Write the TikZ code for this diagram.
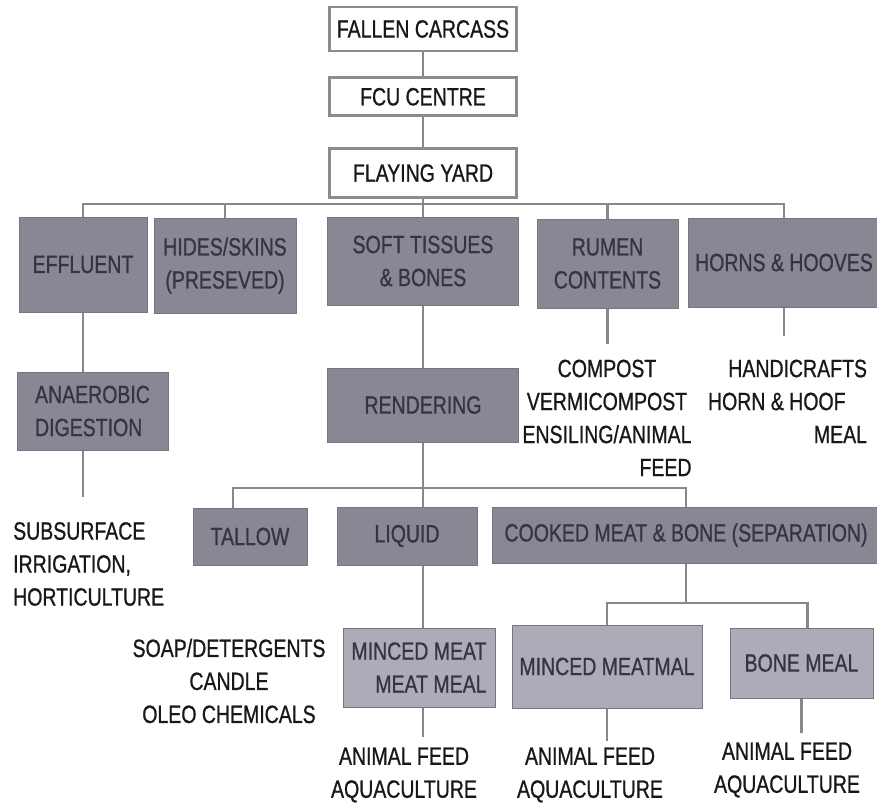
\documentclass[tikz,border=0pt]{standalone}
\usepackage{fontspec}
\setmainfont{Liberation Sans}[FakeStretch=0.78, FakeBold=0.8]
\usepackage{xcolor}
\definecolor{boxgray}{RGB}{136,136,148}
\definecolor{boxlight}{RGB}{172,172,184}
\definecolor{boxedge}{RGB}{118,118,128}
\definecolor{topedge}{RGB}{140,140,140}
\definecolor{boxink}{RGB}{52,52,68}
\definecolor{plainink}{RGB}{24,24,24}
\definecolor{linkgray}{RGB}{135,135,142}
\usepackage{tikz}
\usetikzlibrary{positioning}

\begin{document}
\begin{tikzpicture}[
  x=1pt, y=-1pt,
  font=\fontsize{25}{33}\selectfont,
  topbox/.style={draw=topedge, line width=2.8pt, fill=white, text=plainink,
                 minimum width=187pt, inner sep=2pt},
  box/.style={draw=boxedge, line width=1pt, fill=boxgray, text=boxink,
              align=center, inner sep=2pt},
  lightbox/.style={box, fill=boxlight},
  note/.style={text=plainink, inner sep=3pt},
  link/.style={draw=linkgray, line width=2.2pt}
]
\useasboundingbox (0,0) rectangle (877,804);

\node[topbox, minimum height=44pt] (fallen) at (423,29) {FALLEN CARCASS};
\node[topbox, minimum height=38pt, below=24pt of fallen] (fcu) {FCU CENTRE};
\node[topbox, minimum height=49pt, below=30pt of fcu] (yard) {FLAYING YARD};

\node[box, minimum width=128pt, minimum height=95pt] (effl)  at (83,264.5)  {EFFLUENT};
\node[box, minimum width=142pt, minimum height=95pt] (hides) at (225,265.5) {HIDES/SKINS\\(PRESEVED)};
\node[box, minimum width=191pt, minimum height=88pt] (soft)  at (423,261)   {SOFT TISSUES\\\& BONES};
\node[box, minimum width=141pt, minimum height=89pt] (rumen) at (607.5,263.5) {RUMEN\\CONTENTS};
\node[box, minimum width=192pt, minimum height=89pt] (horns) at (784,262.5) {HORNS \& HOOVES};

\node[box, align=left, minimum width=151pt, minimum height=78pt] (anaer) at (92.5,411) {ANAEROBIC\\DIGESTION};
\node[box, minimum width=191pt, minimum height=74pt] (rend) at (423,405) {RENDERING};

\node[note] (compost) at (607,420)
  {\begin{tabular}{@{}c@{}}COMPOST\\VERMICOMPOST\\ENSILING/ANIMAL\\\multicolumn{1}{@{}r@{}}{FEED}\end{tabular}};
\node[note] (crafts) at (787.5,403.5)
  {\begin{tabular}{@{}p{159pt}@{}}\hfill HANDICRAFTS\\HORN \& HOOF\\\hfill MEAL\end{tabular}};

\node[note, align=left, anchor=west] (irrig) at (10,564) {SUBSURFACE\\IRRIGATION,\\HORTICULTURE};

\node[box, minimum width=114pt, minimum height=57pt] (tallow) at (250,536.5) {TALLOW};
\node[box, minimum width=140pt, minimum height=58pt] (liquid) at (407,536)   {LIQUID};
\node[box, minimum width=388pt, minimum height=56pt] (cooked) at (686,535)   {COOKED MEAT \& BONE (SEPARATION)};

\node[note, align=center] (soap) at (229,681) {SOAP/DETERGENTS\\CANDLE\\OLEO CHEMICALS};
\node[lightbox, align=right, minimum width=152pt, minimum height=79pt] (mmeat) at (419,667.5) {MINCED MEAT\\MEAT MEAL};
\node[lightbox, minimum width=190pt, minimum height=83pt] (mmeal) at (607,666.5) {MINCED MEATMAL};
\node[lightbox, minimum width=143pt, minimum height=70pt] (bone)  at (801.5,663) {BONE MEAL};

\node[note, align=center] (feedA) at (404,775) {ANIMAL FEED\\AQUACULTURE};
\node[note, align=center] (feedB) at (590,775) {ANIMAL FEED\\AQUACULTURE};
\node[note, align=center] (feedC) at (787,770) {ANIMAL FEED\\AQUACULTURE};

\coordinate (bus1) at (423,204);
\coordinate (bus2) at (423,488);
\coordinate (bus3) at (686,603);

\draw[link] (fallen) -- (fcu);
\draw[link] (fcu) -- (yard);
\draw[link] (yard) -- (bus1);
\foreach \n in {effl,hides,soft,rumen,horns}
  \draw[link] (bus1) -| (\n);
\draw[link] (effl) -- (effl |- anaer.north);
\draw[link, shorten >=22pt] (effl |- anaer.south) -- (effl |- irrig.north);
\draw[link, shorten >=7pt] (rumen) -- (rumen |- compost.north);
\draw[link, shorten >=15pt] (horns) -- (horns |- crafts.north);
\draw[link] (soft) -- (rend);
\draw[link] (rend) -- (bus2);
\draw[link] ([xshift=-17pt]tallow.north) |- (bus2) -| (cooked);
\draw[link] (bus2) -- (bus2 |- liquid.north);
\draw[link] (bus2 |- liquid.south) -- (bus2 |- mmeat.north);
\draw[link, shorten >=7pt] (bus2 |- mmeat.south) -- (bus2 |- feedA.north);
\draw[link] (cooked) -- (bus3);
\draw[link] (mmeal) |- (bus3) -| ([xshift=6pt]bone.north);
\draw[link, shorten >=3pt] (mmeal) -- (mmeal |- feedB.north);
\draw[link, shorten >=6pt] (bone) -- (bone |- feedC.north);
\end{tikzpicture}
\end{document}
